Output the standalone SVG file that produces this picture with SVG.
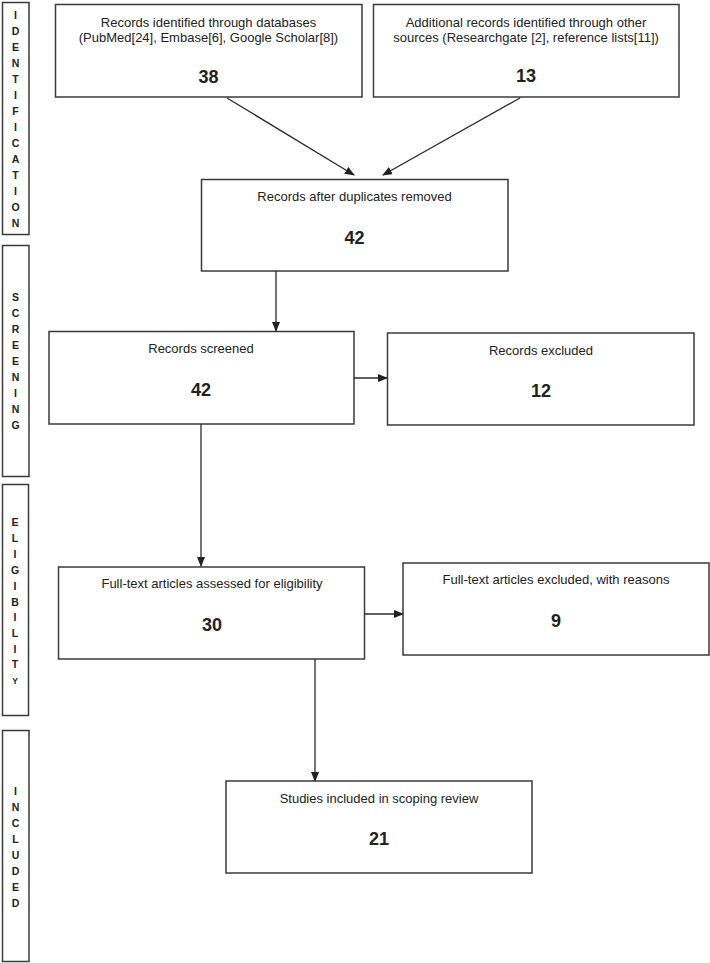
<svg xmlns="http://www.w3.org/2000/svg" width="710" height="963" viewBox="0 0 710 963">
<style>
.box{fill:#fff;stroke:#3a3a3a;stroke-width:1.5}
.t{font-family:"Liberation Sans",Arial,sans-serif;font-size:13px;fill:#222;text-anchor:middle}
.n{font-family:"Liberation Sans",Arial,sans-serif;font-size:18px;font-weight:bold;fill:#222;text-anchor:middle}
.side{font-family:"Liberation Sans",Arial,sans-serif;font-size:10.5px;font-weight:bold;fill:#222;text-anchor:middle}
.c{stroke:#2a2a2a;stroke-width:1.3;fill:none;marker-end:url(#ah)}
</style>
<defs>
<marker id="ah" markerWidth="10" markerHeight="8" refX="9" refY="4" orient="auto" markerUnits="userSpaceOnUse">
<path d="M0,0 L10,4 L0,8 Z" fill="#222"/>
</marker>
</defs>
<rect width="710" height="963" fill="#fff"/>

<g id="bar-identification">
<rect class="box" x="2.5" y="2.5" width="26.5" height="232"/>
<text class="side" x="15.5" y="19">I</text>
<text class="side" x="15.5" y="35">D</text>
<text class="side" x="15.5" y="51">E</text>
<text class="side" x="15.5" y="67">N</text>
<text class="side" x="15.5" y="83">T</text>
<text class="side" x="15.5" y="99">I</text>
<text class="side" x="15.5" y="115">F</text>
<text class="side" x="15.5" y="131">I</text>
<text class="side" x="15.5" y="147">C</text>
<text class="side" x="15.5" y="163">A</text>
<text class="side" x="15.5" y="179">T</text>
<text class="side" x="15.5" y="195">I</text>
<text class="side" x="15.5" y="211">O</text>
<text class="side" x="15.5" y="227">N</text>
</g>

<g id="bar-screening">
<rect class="box" x="2.5" y="245.5" width="26.5" height="231"/>
<text class="side" x="15.5" y="301">S</text>
<text class="side" x="15.5" y="317">C</text>
<text class="side" x="15.5" y="333">R</text>
<text class="side" x="15.5" y="349">E</text>
<text class="side" x="15.5" y="365">E</text>
<text class="side" x="15.5" y="381">N</text>
<text class="side" x="15.5" y="397">I</text>
<text class="side" x="15.5" y="413">N</text>
<text class="side" x="15.5" y="429">G</text>
</g>

<g id="bar-eligibility">
<rect class="box" x="2.5" y="484.5" width="26" height="231"/>
<text class="side" x="15" y="526">E</text>
<text class="side" x="15" y="542">L</text>
<text class="side" x="15" y="558">I</text>
<text class="side" x="15" y="574">G</text>
<text class="side" x="15" y="589.5">I</text>
<text class="side" x="15" y="605.5">B</text>
<text class="side" x="15" y="621">I</text>
<text class="side" x="15" y="637">L</text>
<text class="side" x="15" y="652.5">I</text>
<text class="side" x="15" y="668">T</text>
<text class="side" x="15" y="684" style="font-size:8.5px">Y</text>
</g>

<g id="bar-included">
<rect class="box" x="2.5" y="730.5" width="26.5" height="231"/>
<text class="side" x="15.5" y="795">I</text>
<text class="side" x="15.5" y="811">N</text>
<text class="side" x="15.5" y="827">C</text>
<text class="side" x="15.5" y="843">L</text>
<text class="side" x="15.5" y="859">U</text>
<text class="side" x="15.5" y="875">D</text>
<text class="side" x="15.5" y="891">E</text>
<text class="side" x="15.5" y="907">D</text>
</g>

<g id="node-databases">
<rect class="box" x="55.5" y="4.5" width="306.5" height="92.5"/>
<text class="t" x="208.5" y="27">Records identified through databases</text>
<text class="t" x="208.5" y="42">(PubMed[24], Embase[6], Google Scholar[8])</text>
<text class="n" x="208.5" y="83">38</text>
</g>

<g id="node-other">
<rect class="box" x="373.5" y="4.5" width="305.5" height="92.5"/>
<text class="t" x="526" y="27">Additional records identified through other</text>
<text class="t" x="526" y="42">sources (Researchgate [2], reference lists[11])</text>
<text class="n" x="526" y="82">13</text>
</g>

<g id="node-duplicates">
<rect class="box" x="201.5" y="179.5" width="306.5" height="91.5"/>
<text class="t" x="354.5" y="201">Records after duplicates removed</text>
<text class="n" x="354.5" y="244">42</text>
</g>

<g id="node-screened">
<rect class="box" x="49" y="331.5" width="305" height="92.5"/>
<text class="t" x="201" y="353">Records screened</text>
<text class="n" x="201" y="396">42</text>
</g>

<g id="node-excluded">
<rect class="box" x="387.5" y="333" width="306.5" height="92"/>
<text class="t" x="541" y="355">Records excluded</text>
<text class="n" x="541" y="397">12</text>
</g>

<g id="node-assessed">
<rect class="box" x="58.5" y="567" width="306" height="92"/>
<text class="t" x="212" y="588">Full-text articles assessed for eligibility</text>
<text class="n" x="212" y="631">30</text>
</g>

<g id="node-excluded-reasons">
<rect class="box" x="403" y="563" width="306" height="92"/>
<text class="t" x="556" y="584">Full-text articles excluded, with reasons</text>
<text class="n" x="556" y="627">9</text>
</g>

<g id="node-included">
<rect class="box" x="226" y="781" width="306" height="92"/>
<text class="t" x="379" y="803">Studies included in scoping review</text>
<text class="n" x="379" y="845">21</text>
</g>

<g id="connectors">
<line class="c" x1="227" y1="98" x2="354" y2="175"/>
<line class="c" x1="520" y1="98" x2="383" y2="175"/>
<line class="c" x1="276" y1="271" x2="276" y2="331"/>
<line class="c" x1="354" y1="378" x2="387" y2="378"/>
<line class="c" x1="201" y1="424" x2="201" y2="566"/>
<line class="c" x1="364.5" y1="614" x2="403" y2="614"/>
<line class="c" x1="315" y1="659" x2="315" y2="781"/>
</g>
</svg>
